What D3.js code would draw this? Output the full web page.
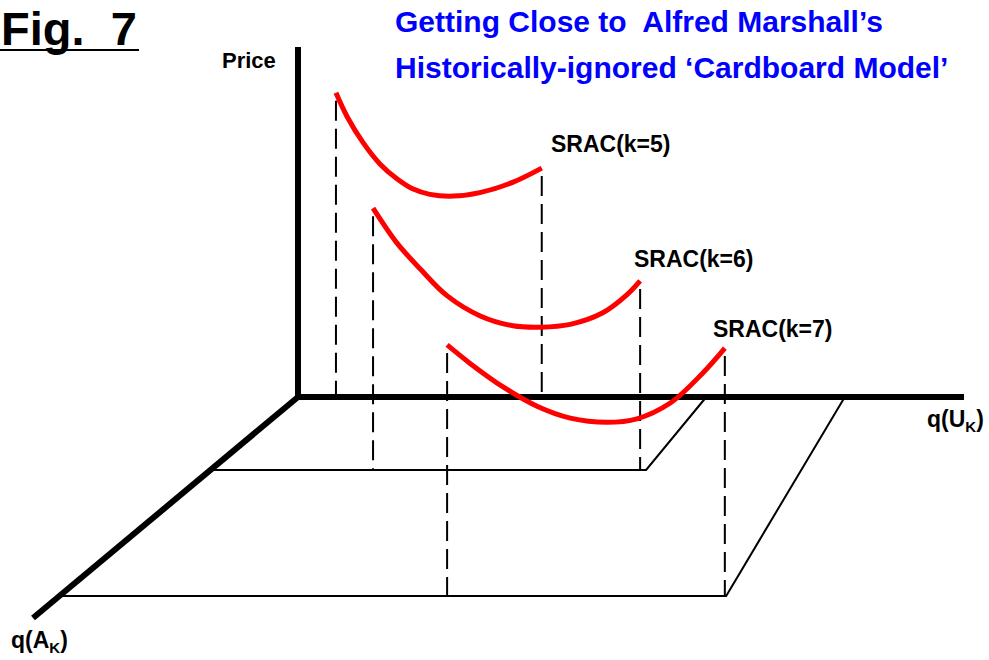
<!DOCTYPE html>
<html>
<head>
<meta charset="utf-8">
<script src="https://cdn.jsdelivr.net/npm/d3@7"></script>
<style>
body { margin: 0; background: #fff; }
svg text { font-family: "Liberation Sans", Arial, sans-serif; font-weight: bold; white-space: pre; }
</style>
</head>
<body>
<svg id="chart" width="989" height="660"></svg>
<script>
// q(U_K) runs along the floor, price up the wall, q(A_K) back along the diagonal
const curveNames = ["SRAC(k=5)", "SRAC(k=6)", "SRAC(k=7)"];
const curveDepths = [0, 33, 90];

// [q(U_K), price]
const srac5 = [[5.7, 86.9], [7.4, 80], [9.8, 72.6], [12.3, 66.6], [14.9, 62.3], [17.3, 59.4],
    [19.8, 57.9], [23.3, 57.4], [27.3, 58.4], [32.3, 61.4], [36.6, 65.4]];
const srac6 = [[24.4, 74.8], [28.0, 64.8], [31.5, 57.4], [35.5, 49.8], [40.5, 44.0], [45.4, 41.2],
    [49.5, 40.8], [54.0, 41.6], [58.9, 44.9], [62.5, 50.0], [64.5, 54.0]];
const srac7 = [[58.2, 71.7], [61.6, 66.5], [66.6, 59.7], [71.7, 54.2], [76.7, 50.8], [82.2, 49.6],
    [86.7, 50.6], [91.7, 55.1], [96.6, 63.7], [99.9, 70.8]];
const curves = [srac5, srac6, srac7];

// the "cardboard" floors for k=6 and k=7
const floorDepths = [33, 90];
const floorBackQ = [65.4, 100.1];
const floorFrontQ = [61.3, 82.1];

const svg = d3.select("#chart");

const x = d3.scaleLinear().domain([0, 100]).range([298, 964]);
const y = d3.scaleLinear().domain([0, 100]).range([397, 47]);
const depthX = d3.scaleLinear().domain([0, 100]).range([0, -265]);
const depthY = d3.scaleLinear().domain([0, 100]).range([0, 221]);

const px = (q, d) => x(q) + depthX(d);
const py = (p, d) => y(p) + depthY(d);

// floors
floorDepths.forEach((d, i) => {
    let pts = [[px(0, d), py(0, d)], [px(floorBackQ[i], d), py(0, d)], [px(floorFrontQ[i], 0), py(0, 0)]];
    svg.append("path")
        .attr("d", d3.line()(pts))
        .attr("fill", "none")
        .attr("stroke", "black")
        .attr("stroke-width", 2);
});

// dashed drops from the ends of each curve
curves.forEach((c, i) => {
    let d = curveDepths[i];
    for (let pt of [c[0], c[c.length - 1]]) {
        svg.append("line")
            .attr("x1", px(pt[0], d)).attr("y1", py(pt[1], d) + 8)
            .attr("x2", px(pt[0], d)).attr("y2", py(0, d))
            .attr("stroke", "black")
            .attr("stroke-width", 2)
            .attr("stroke-dasharray", "20,8");
    }
});

// axes
const axis = (x1, y1, x2, y2) => svg.append("line")
    .attr("x1", x1).attr("y1", y1).attr("x2", x2).attr("y2", y2)
    .attr("stroke", "black")
    .attr("stroke-width", 6);
axis(x(0), y(0) + 3, x(0), y(100));
axis(x(0), y(0), x(100), y(0));
axis(px(0, 0), py(0, 0), px(0, 100), py(0, 100));

// cost curves
curves.forEach((c, i) => {
    let d = curveDepths[i];
    let line = d3.line()
        .x(pt => px(pt[0], d))
        .y(pt => py(pt[1], d))
        .curve(d3.curveCatmullRom);
    svg.append("path")
        .attr("d", line(c))
        .attr("fill", "none")
        .attr("stroke", "#ff0000")
        .attr("stroke-width", 5);
});

// curve labels
const labelXY = [[551, 152], [634, 267], [713, 337]];
curveNames.forEach((name, i) => {
    svg.append("text")
        .attr("x", labelXY[i][0]).attr("y", labelXY[i][1])
        .attr("font-size", 23)
        .text(name);
});

// axis labels
svg.append("text").attr("x", 222).attr("y", 68).attr("font-size", 22).text("Price");

const subLabel = (tx, ty, main, sub) => {
    let t = svg.append("text").attr("x", tx).attr("y", ty).attr("font-size", 23);
    t.append("tspan").text(main);
    t.append("tspan").attr("font-size", 15).attr("dy", 5).text(sub);
    t.append("tspan").attr("dy", -5).text(")");
};
subLabel(927, 427, "q(U", "K");
subLabel(11, 648, "q(A", "K");

// titles
svg.append("text").attr("x", 1).attr("y", 45).attr("font-size", 47).text("Fig.  7");
svg.append("line")
    .attr("x1", 0).attr("y1", 50).attr("x2", 139).attr("y2", 50)
    .attr("stroke", "black").attr("stroke-width", 2);

svg.append("text").attr("x", 395).attr("y", 32).attr("font-size", 30).attr("fill", "#0000ff")
    .text("Getting Close to  Alfred Marshall’s");
svg.append("text").attr("x", 395).attr("y", 78).attr("font-size", 30).attr("fill", "#0000ff")
    .text("Historically-ignored ‘Cardboard Model’");
</script>
</body>
</html>
